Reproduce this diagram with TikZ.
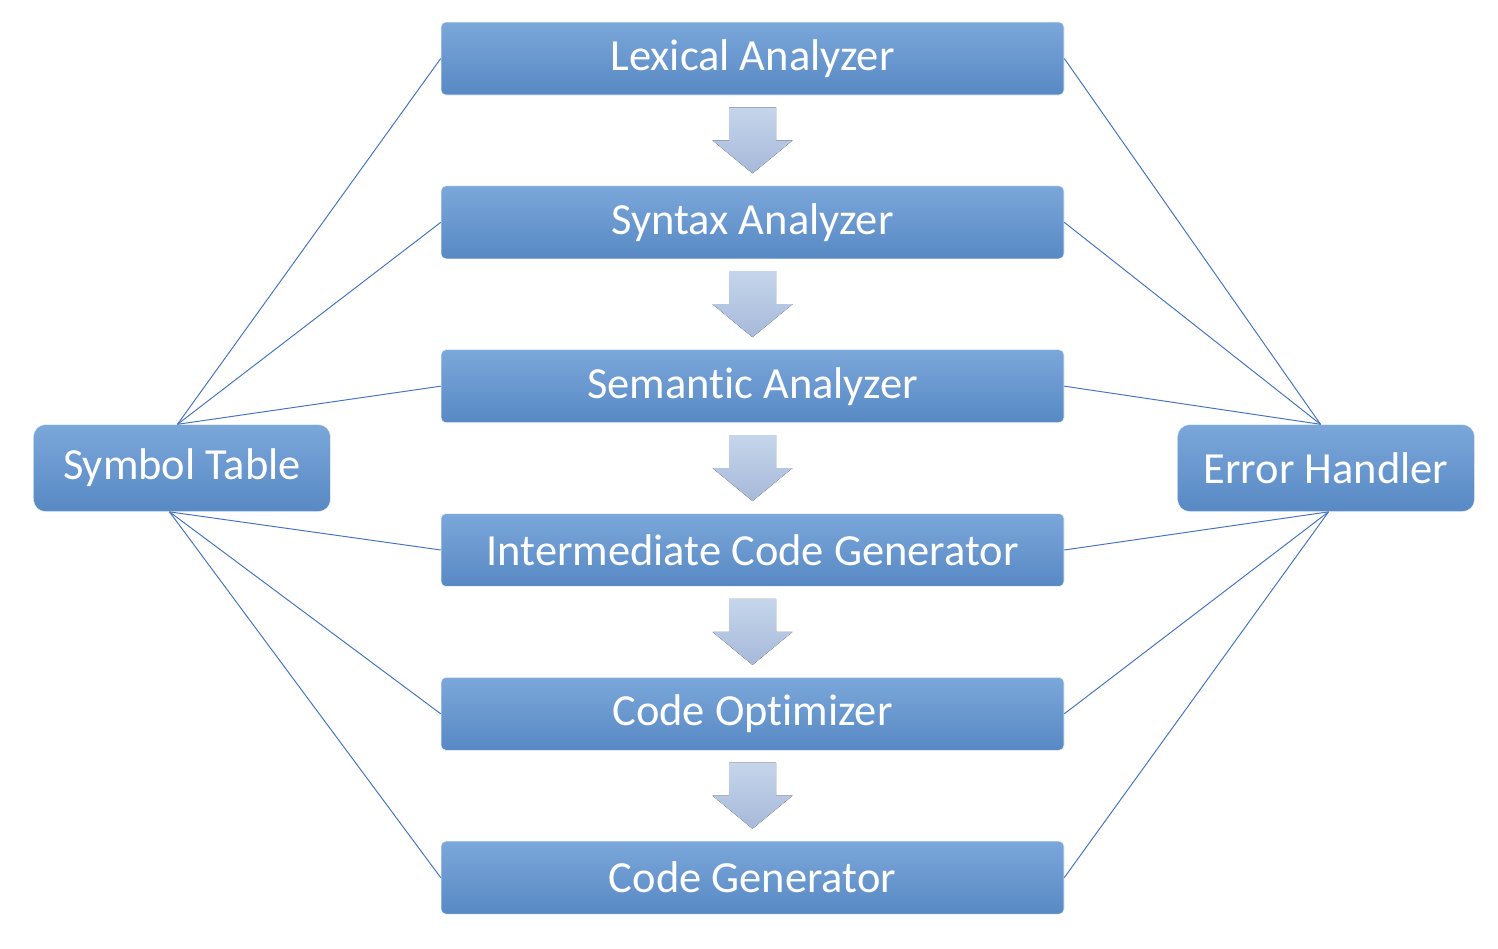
\documentclass[tikz,border=0pt]{standalone}
\usepackage{fontspec}
\setmainfont{Carlito}[Ligatures=NoCommon]
\usetikzlibrary{shapes,arrows,positioning,calc}
\definecolor{boxtop}{HTML}{7BA7DA}
\definecolor{boxbot}{HTML}{5889C4}
\definecolor{arrtop}{HTML}{C5D5EB}
\definecolor{arrbot}{HTML}{A6B9D9}
\definecolor{linkblue}{HTML}{4472C4}
\tikzstyle{phase} = [rectangle, rounded corners=0.1cm, minimum width=12.46cm, minimum height=1.46cm,
text centered, draw=white!85!boxtop, line width=0.3pt, top color=boxtop, bottom color=boxbot, text=white, font=\fontsize{25.3}{30}\selectfont]
\tikzstyle{sidebox} = [phase, rounded corners=0.24cm, minimum width=5.94cm, minimum height=1.74cm]
\tikzstyle{downArrow} = [draw=none, top color=arrtop, bottom color=arrbot]
\tikzstyle{link} = [draw=linkblue, line width=0.55pt]

\begin{document}
\begin{tikzpicture}[node distance=1.806cm]
		\useasboundingbox (0,0) rectangle (29.96,-18.96);
		%blocks
		\node[phase](lex) at (15.05,-1.17){Lexical Analyzer};
		\node[phase, below=of lex](syn){Syntax Analyzer};
		\node[phase, below=of syn](sem){Semantic Analyzer};
		\node[phase, below=of sem](icg){Intermediate Code Generator};
		\node[phase, below=of icg](opt){Code Optimizer};
		\node[phase, below=of opt](gen){Code Generator};
		\node[sidebox, left=2.2cm of $(sem.west)!0.5!(icg.west)$](sym){Symbol Table};
		\node[sidebox, right=2.26cm of $(sem.east)!0.5!(icg.east)$](err){Error Handler};

		%flow arrows
		\foreach \u/\d in {lex/syn,syn/sem,sem/icg,icg/opt,opt/gen}{
			\coordinate (mid) at ($(\u.south)!0.5!(\d.north)$);
			\fill[downArrow] ($(mid)+(-0.47,0.66)$) -- ($(mid)+(0.47,0.66)$) -- ($(mid)+(0.47,0)$)
				-- ($(mid)+(0.8,0)$) -- ($(mid)+(0,-0.66)$) -- ($(mid)+(-0.8,0)$) -- ($(mid)+(-0.47,0)$) -- cycle;
		}

		%links
		\coordinate (symtop) at ($(sym.north)+(-0.09,0)$);
		\coordinate (symbot) at ($(sym.south)+(-0.25,0)$);
		\coordinate (errtop) at ($(err.north)+(-0.11,0)$);
		\coordinate (errbot) at ($(err.south)+(0.05,0)$);
		\foreach \b in {lex,syn,sem}{
			\draw[link](symtop)--(\b.west);
			\draw[link](errtop)--(\b.east);
		}
		\foreach \b in {icg,opt,gen}{
			\draw[link](symbot)--(\b.west);
			\draw[link](errbot)--(\b.east);
		}
	\end{tikzpicture}
\end{document}
